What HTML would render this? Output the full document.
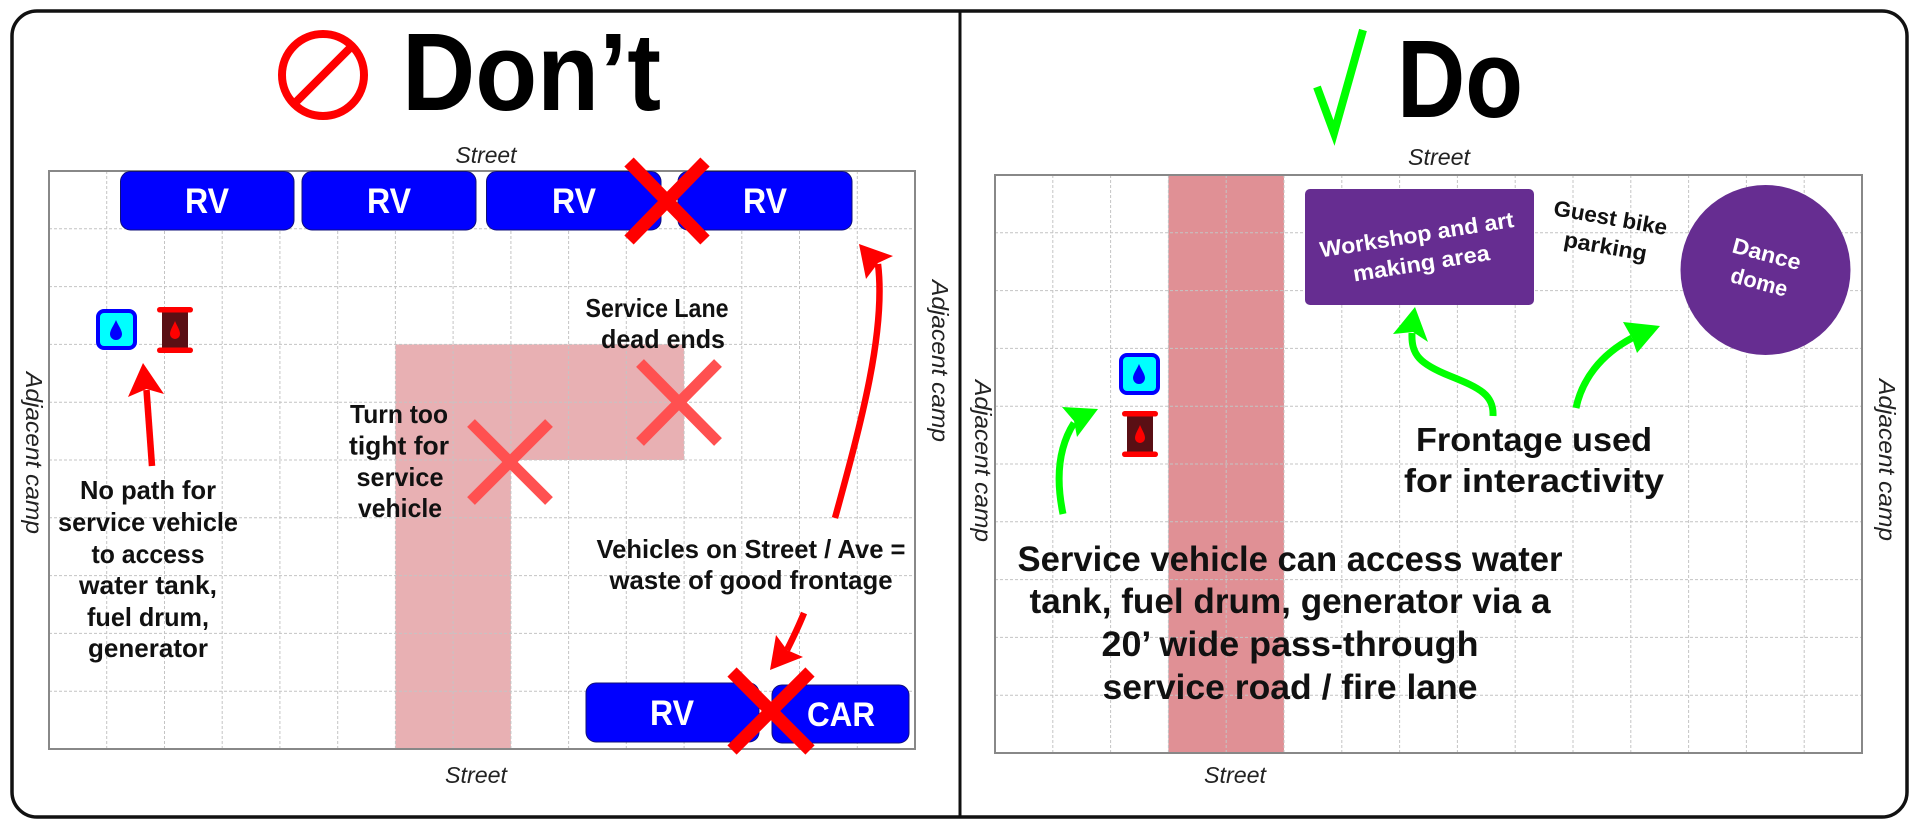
<!DOCTYPE html>
<html><head><meta charset="utf-8"><style>
html,body{margin:0;padding:0;background:#fff;}
svg{display:block;}
text{font-family:"Liberation Sans",sans-serif;}
.b{font-weight:bold;fill:#111;}
.it{font-style:italic;fill:#222;}
</style></head><body>
<svg width="1920" height="826" viewBox="0 0 1920 826" xmlns="http://www.w3.org/2000/svg">
<rect x="0" y="0" width="1920" height="826" fill="#fff"/>
<!-- frame -->
<rect x="12" y="11" width="1895" height="806" rx="25" ry="25" fill="none" stroke="#111" stroke-width="3.5"/>
<line x1="960" y1="11" x2="960" y2="817" stroke="#111" stroke-width="3"/>

<!-- LEFT GRID -->
<path d="M395.4 344.4 H684.1 V460 H510.9 V749 H395.4 Z" fill="#e8b0b3"/>
<g stroke="#c4c4c4" stroke-width="1" stroke-dasharray="3 2" fill="none">
<path d="M106.7 171V749M164.5 171V749M222.2 171V749M279.9 171V749M337.7 171V749M395.4 171V749M453.1 171V749M510.9 171V749M568.6 171V749M626.3 171V749M684.1 171V749M741.8 171V749M799.5 171V749M857.3 171V749"/>
<path d="M49 228.8H915M49 286.6H915M49 344.4H915M49 402.2H915M49 460H915M49 517.8H915M49 575.6H915M49 633.4H915M49 691.2H915"/>
</g>
<rect x="49" y="171" width="866" height="578" fill="none" stroke="#888" stroke-width="2"/>

<!-- RIGHT GRID -->
<rect x="1168.4" y="175" width="115.6" height="578" fill="#e09095"/>
<g stroke="#c4c4c4" stroke-width="1" stroke-dasharray="3 2" fill="none">
<path d="M1052.8 175V753M1110.6 175V753M1168.4 175V753M1226.2 175V753M1284 175V753M1341.8 175V753M1399.6 175V753M1457.4 175V753M1515.2 175V753M1573 175V753M1630.8 175V753M1688.6 175V753M1746.4 175V753M1804.2 175V753"/>
<path d="M995 232.8H1862M995 290.6H1862M995 348.4H1862M995 406.2H1862M995 464H1862M995 521.8H1862M995 579.6H1862M995 637.4H1862M995 695.2H1862"/>
</g>
<rect x="995" y="175" width="867" height="578" fill="none" stroke="#888" stroke-width="2"/>

<!-- TITLES -->
<circle cx="323" cy="75" r="41" fill="none" stroke="#ff0000" stroke-width="8"/>
<line x1="352" y1="46" x2="294" y2="104" stroke="#ff0000" stroke-width="8"/>
<text x="402" y="110" font-size="110" font-weight="bold" fill="#000" textLength="259" lengthAdjust="spacingAndGlyphs">Don’t</text>
<polyline points="1317,87 1334,133 1363,30" fill="none" stroke="#00ff00" stroke-width="8" stroke-linejoin="miter"/>
<text x="1397" y="117" font-size="110" font-weight="bold" fill="#000" textLength="126" lengthAdjust="spacingAndGlyphs">Do</text>

<!-- STREET labels -->
<text class="it" x="486" y="163" font-size="23" text-anchor="middle" textLength="61" lengthAdjust="spacingAndGlyphs">Street</text>
<text class="it" x="1439" y="165" font-size="23" text-anchor="middle" textLength="62" lengthAdjust="spacingAndGlyphs">Street</text>
<text class="it" x="476" y="783" font-size="23" text-anchor="middle" textLength="62" lengthAdjust="spacingAndGlyphs">Street</text>
<text class="it" x="1235" y="783" font-size="23" text-anchor="middle" textLength="62" lengthAdjust="spacingAndGlyphs">Street</text>

<!-- Adjacent camp labels -->
<g transform="translate(34,453) rotate(90)"><text class="it" x="0" y="8" font-size="23" text-anchor="middle" textLength="162" lengthAdjust="spacingAndGlyphs">Adjacent camp</text></g>
<g transform="translate(940,361) rotate(90)"><text class="it" x="0" y="8" font-size="23" text-anchor="middle" textLength="162" lengthAdjust="spacingAndGlyphs">Adjacent camp</text></g>
<g transform="translate(983,461) rotate(90)"><text class="it" x="0" y="8" font-size="23" text-anchor="middle" textLength="162" lengthAdjust="spacingAndGlyphs">Adjacent camp</text></g>
<g transform="translate(1887,460) rotate(90)"><text class="it" x="0" y="8" font-size="23" text-anchor="middle" textLength="162" lengthAdjust="spacingAndGlyphs">Adjacent camp</text></g>

<!-- LEFT: RVs top -->
<g fill="#0000ff" stroke="#10107a" stroke-width="1">
<rect x="120.5" y="171.5" width="173.5" height="58.5" rx="10"/>
<rect x="302" y="171.5" width="174" height="58.5" rx="10"/>
<rect x="486.5" y="171.5" width="174.5" height="58.5" rx="10"/>
<rect x="678" y="171.5" width="174" height="58.5" rx="10"/>
<rect x="586" y="683" width="173" height="59" rx="10"/>
<rect x="772" y="685" width="137" height="58" rx="10"/>
</g>
<g font-size="35" font-weight="bold" fill="#fff" text-anchor="middle">
<text x="207" y="213" textLength="44" lengthAdjust="spacingAndGlyphs">RV</text>
<text x="389" y="213" textLength="44" lengthAdjust="spacingAndGlyphs">RV</text>
<text x="574" y="213" textLength="44" lengthAdjust="spacingAndGlyphs">RV</text>
<text x="765" y="213" textLength="44" lengthAdjust="spacingAndGlyphs">RV</text>
<text x="672" y="725" textLength="44" lengthAdjust="spacingAndGlyphs">RV</text>
<text x="841" y="726" font-size="34" textLength="68" lengthAdjust="spacingAndGlyphs">CAR</text>
</g>
<!-- red Xs -->
<g stroke="#ff0000" stroke-width="13">
<line x1="629" y1="162" x2="705" y2="240"/><line x1="705" y1="162" x2="629" y2="240"/>
<line x1="732" y1="672" x2="810" y2="750"/><line x1="810" y1="672" x2="732" y2="750"/>
</g>
<g stroke="#ff5050" stroke-width="11">
<line x1="471" y1="423" x2="549" y2="501"/><line x1="549" y1="423" x2="471" y2="501"/>
<line x1="640" y1="363" x2="718" y2="442"/><line x1="718" y1="363" x2="640" y2="442"/>
</g>

<!-- icons left -->
<rect x="98" y="311" width="37" height="37" rx="6" fill="#00ffff" stroke="#0000ff" stroke-width="4"/>
<path d="M116 320 C118 325,122 330,122 334 A6 6 0 0 1 110 334 C110 330,114 325,116 320 Z" fill="#0000ff"/>
<rect x="162" y="310" width="26" height="40" fill="#5a0f14"/>
<rect x="157" y="307" width="36" height="5.5" rx="2.7" fill="#ff0000"/>
<rect x="157" y="347.5" width="36" height="5.5" rx="2.7" fill="#ff0000"/>
<path d="M175 321 C177 326,180 330,180 334 A5 5 0 0 1 170 334 C170 330,173 326,175 321 Z" fill="#ff0000"/>

<!-- icons right -->
<rect x="1121" y="355" width="37" height="38" rx="6" fill="#00ffff" stroke="#0000ff" stroke-width="4"/>
<path d="M1139 364 C1141 369,1145 374,1145 378 A6 6 0 0 1 1133 378 C1133 374,1137 369,1139 364 Z" fill="#0000ff"/>
<rect x="1127" y="414" width="26" height="40" fill="#5a0f14"/>
<rect x="1122" y="411" width="36" height="5.5" rx="2.7" fill="#ff0000"/>
<rect x="1122" y="451.5" width="36" height="5.5" rx="2.7" fill="#ff0000"/>
<path d="M1140 425 C1142 430,1145 434,1145 438 A5 5 0 0 1 1135 438 C1135 434,1138 430,1140 425 Z" fill="#ff0000"/>

<!-- left texts -->
<g class="b" font-size="26" text-anchor="middle">
<text x="148" y="499" textLength="136" lengthAdjust="spacingAndGlyphs">No path for</text>
<text x="148" y="531" textLength="180" lengthAdjust="spacingAndGlyphs">service vehicle</text>
<text x="148" y="563" textLength="113" lengthAdjust="spacingAndGlyphs">to access</text>
<text x="148" y="594" textLength="138" lengthAdjust="spacingAndGlyphs">water tank,</text>
<text x="148" y="626" textLength="122" lengthAdjust="spacingAndGlyphs">fuel drum,</text>
<text x="148" y="657" textLength="120" lengthAdjust="spacingAndGlyphs">generator</text>

<text x="399" y="423" textLength="98" lengthAdjust="spacingAndGlyphs">Turn too</text>
<text x="399" y="454.5" textLength="100" lengthAdjust="spacingAndGlyphs">tight for</text>
<text x="400" y="486" textLength="87" lengthAdjust="spacingAndGlyphs">service</text>
<text x="400" y="517" textLength="84" lengthAdjust="spacingAndGlyphs">vehicle</text>

<text x="657" y="317" textLength="143" lengthAdjust="spacingAndGlyphs">Service Lane</text>
<text x="663" y="348" textLength="124" lengthAdjust="spacingAndGlyphs">dead ends</text>

<text x="751" y="558" textLength="309" lengthAdjust="spacingAndGlyphs">Vehicles on Street / Ave =</text>
<text x="751" y="589" textLength="283" lengthAdjust="spacingAndGlyphs">waste of good frontage</text>
</g>

<!-- red arrows -->
<g fill="none" stroke="#ff0000" stroke-width="6.5">
<path d="M152 466 L146.5 390"/>
<path d="M835 518 C862 420,886 330,878 264"/>
<path d="M804 613 C798 628,792 640,787 650"/>
</g>
<g fill="#ff0000">
<polygon points="143,363 164,394 146.5,389 128,397"/>
<polygon points="859,244 893,256 878,263 866,279"/>
<polygon points="770,670 776,635 787,650 803,657"/>
</g>

<!-- right panel shapes -->
<rect x="1305" y="189" width="229" height="116" rx="5" fill="#662d91"/>
<ellipse cx="1765.5" cy="270" rx="85" ry="85" fill="#662d91"/>
<g transform="translate(1419,249) rotate(-9)" font-size="22" font-weight="bold" fill="#fff" text-anchor="middle">
<text x="0" y="-7" textLength="196" lengthAdjust="spacingAndGlyphs">Workshop and art</text>
<text x="0" y="22" textLength="138" lengthAdjust="spacingAndGlyphs">making area</text>
</g>
<g transform="translate(1608,232) rotate(10)" font-size="22" font-weight="bold" fill="#111" text-anchor="middle">
<text x="0" y="-7" textLength="115" lengthAdjust="spacingAndGlyphs">Guest bike</text>
<text x="0" y="22" textLength="84" lengthAdjust="spacingAndGlyphs">parking</text>
</g>
<g transform="translate(1763,268) rotate(15)" font-size="22" font-weight="bold" fill="#fff" text-anchor="middle">
<text x="0" y="-7" textLength="70" lengthAdjust="spacingAndGlyphs">Dance</text>
<text x="0" y="22" textLength="58" lengthAdjust="spacingAndGlyphs">dome</text>
</g>

<!-- green arrows -->
<g fill="none" stroke="#00ff00" stroke-width="7">
<path d="M1063 514 C1056 480,1058 448,1074 423"/>
<path d="M1493 416 C1494 395,1480 388,1450 376 C1420 364,1411 355,1412 333"/>
<path d="M1576 408 C1582 380,1600 355,1632 338"/>
</g>
<g fill="#00ff00">
<polygon points="1098,409 1077,437 1074,421 1062,407"/>
<polygon points="1415,307 1428,342 1413,332 1393,334"/>
<polygon points="1660,326 1637,353 1632,338 1623,322"/>
</g>

<!-- right texts -->
<g class="b" text-anchor="middle">
<text x="1534" y="451" font-size="33" textLength="236" lengthAdjust="spacingAndGlyphs">Frontage used</text>
<text x="1534" y="492" font-size="33" textLength="260" lengthAdjust="spacingAndGlyphs">for interactivity</text>
<text x="1290" y="571" font-size="35" textLength="545" lengthAdjust="spacingAndGlyphs">Service vehicle can access water</text>
<text x="1290" y="613" font-size="35" textLength="521" lengthAdjust="spacingAndGlyphs">tank, fuel drum, generator via a</text>
<text x="1290" y="656" font-size="35" textLength="377" lengthAdjust="spacingAndGlyphs">20’ wide pass-through</text>
<text x="1290" y="699" font-size="35" textLength="375" lengthAdjust="spacingAndGlyphs">service road / fire lane</text>
</g>
</svg>
</body></html>
